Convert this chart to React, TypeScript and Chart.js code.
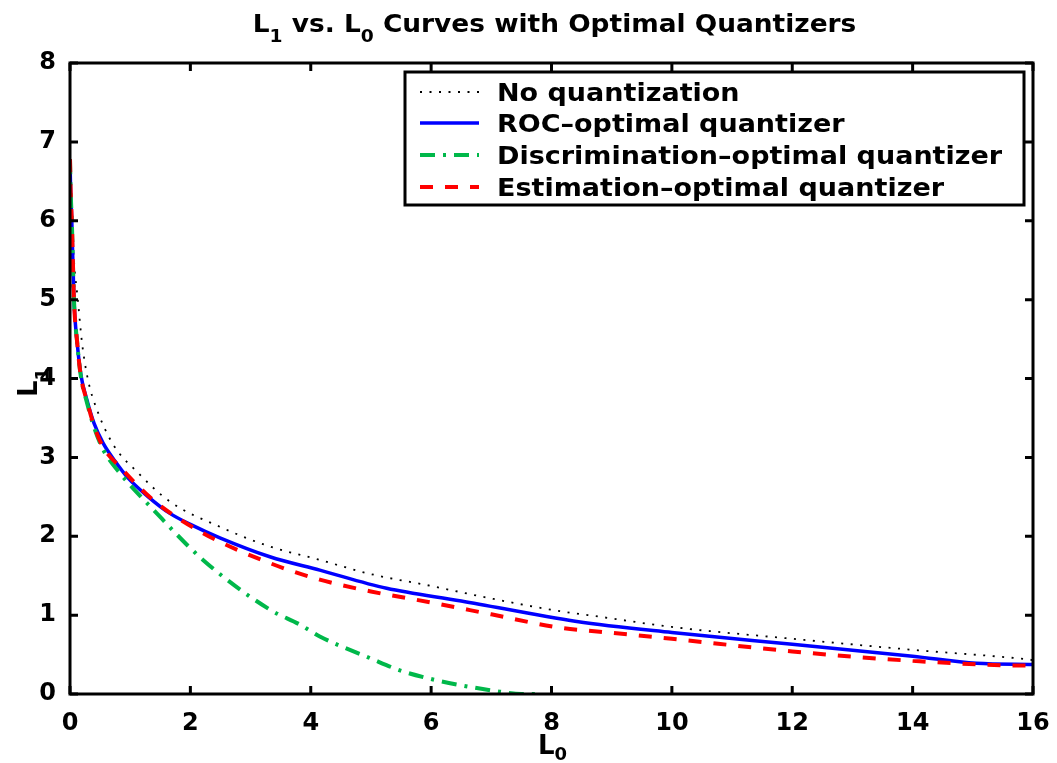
import React, { useEffect, useRef } from "react";
import { Chart, registerables } from "chart.js";

Chart.register(...registerables);

// ---- Data ----
const noQuantL0 = [0, 0.01, 0.03, 0.07, 0.13, 0.2, 0.3, 0.45, 0.72, 1.11, 1.66, 2.49, 3.32, 4.15, 5, 6, 7, 8.14, 8.8, 10, 12, 14, 15.9, 16];
const noQuantL1 = [6.8, 6.4, 6.0, 5.45, 5.0, 4.45, 3.98, 3.6, 3.16, 2.82, 2.44, 2.12, 1.87, 1.7, 1.52, 1.37, 1.21, 1.05, 0.98, 0.85, 0.7, 0.56, 0.44, 0.43];

const rocL0 = [0, 0.01, 0.03, 0.066, 0.12, 0.18, 0.28, 0.4, 0.55, 0.75, 0.94, 1.3, 1.66, 2.0, 2.49, 3.32, 4.15, 5.26, 6.5, 8.42, 10, 12, 14, 15.06, 16];
const rocL1 = [6.78, 6.4, 6.0, 5.0, 4.45, 4.05, 3.73, 3.43, 3.18, 2.95, 2.76, 2.5, 2.29, 2.15, 1.98, 1.74, 1.57, 1.34, 1.18, 0.92, 0.78, 0.63, 0.48, 0.39, 0.375];

const discL0 = [0, 0.01, 0.03, 0.066, 0.12, 0.18, 0.28, 0.4, 0.55, 0.83, 1.38, 2.21, 3.32, 3.82, 4.15, 5, 5.48, 6, 6.5, 7.14, 7.5, 7.75];
const discL1 = [6.78, 6.4, 6.0, 5.0, 4.45, 4.03, 3.7, 3.38, 3.1, 2.8, 2.34, 1.7, 1.07, 0.88, 0.73, 0.45, 0.3, 0.19, 0.11, 0.03, 0.0, 0.0];

const estL0 = [0, 0.01, 0.03, 0.066, 0.12, 0.18, 0.28, 0.4, 0.55, 0.83, 1.38, 2.21, 3.32, 4.15, 5, 6, 7, 8.14, 8.8, 10, 12, 14, 15.9, 16];
const estL1 = [6.78, 6.4, 6.0, 5.0, 4.45, 4.03, 3.72, 3.4, 3.13, 2.88, 2.46, 2.04, 1.66, 1.45, 1.3, 1.16, 1.01, 0.84, 0.79, 0.7, 0.54, 0.42, 0.36, 0.36];

const seriesLabels = [
  "No quantization",
  "ROC–optimal quantizer",
  "Discrimination–optimal quantizer",
  "Estimation–optimal quantizer",
];

const xTickStep = 2;
const yTickStep = 1;
const xMax = 16;
const yMax = 8;

const FONT = "'DejaVu Sans', 'Liberation Sans', Arial, sans-serif";

const styles = [
  { color: "#000000", width: 1.8, dash: [2, 7.5] },
  { color: "#0000ff", width: 3.5, dash: [] as number[] },
  { color: "#00b84a", width: 4, dash: [15, 8, 3, 8] },
  { color: "#ff0000", width: 4, dash: [13, 12] },
];

function pts(xs: number[], ys: number[]) {
  return xs.map((x, i) => ({ x, y: ys[i] }));
}

type Part = { t: string; sub?: boolean };

function drawRich(
  ctx: CanvasRenderingContext2D,
  parts: Part[],
  x: number,
  y: number,
  size: number,
  sx: number,
  align: "left" | "center",
  subOff: number = 0.42
) {
  const subSize = Math.round(size * 0.7);
  const widths = parts.map((p) => {
    ctx.font = `bold ${p.sub ? subSize : size}px ${FONT}`;
    return ctx.measureText(p.t).width;
  });
  const total = widths.reduce((a, b) => a + b, 0);
  ctx.save();
  ctx.translate(x, y);
  ctx.scale(sx, 1);
  let cx = align === "center" ? -total / 2 : 0;
  ctx.textBaseline = "alphabetic";
  ctx.textAlign = "left";
  ctx.fillStyle = "#000";
  parts.forEach((p, i) => {
    ctx.font = `bold ${p.sub ? subSize : size}px ${FONT}`;
    ctx.fillText(p.t, cx, p.sub ? size * subOff : 0);
    cx += widths[i];
  });
  ctx.restore();
}

const decorPlugin = {
  id: "decor",
  afterDraw(chart: any) {
    const ctx: CanvasRenderingContext2D = chart.ctx;
    const { left, right, top, bottom } = chart.chartArea;
    const xs = chart.scales.x;
    const ys = chart.scales.y;
    ctx.save();
    // frame
    ctx.strokeStyle = "#000";
    ctx.lineWidth = 3;
    ctx.setLineDash([]);
    ctx.strokeRect(left, top, right - left, bottom - top);
    // inward ticks
    const tl = 8;
    ctx.beginPath();
    for (let v = 0; v <= xMax; v += xTickStep) {
      const px = xs.getPixelForValue(v);
      ctx.moveTo(px, bottom);
      ctx.lineTo(px, bottom - tl);
      ctx.moveTo(px, top);
      ctx.lineTo(px, top + tl);
    }
    for (let v = 0; v <= yMax; v += yTickStep) {
      const py = ys.getPixelForValue(v);
      ctx.moveTo(left, py);
      ctx.lineTo(left + tl, py);
      ctx.moveTo(right, py);
      ctx.lineTo(right - tl, py);
    }
    ctx.stroke();

    // title
    drawRich(
      ctx,
      [{ t: "L" }, { t: "1", sub: true }, { t: " vs. L" }, { t: "0", sub: true }, { t: " Curves with Optimal Quantizers" }],
      (left + right) / 2 + 3,
      32,
      24,
      1.1,
      "center"
    );
    // x label
    drawRich(ctx, [{ t: "L" }, { t: "0", sub: true }], (left + right) / 2 + 1, 754, 26, 1.0, "center", 0.22);
    // y label (rotated)
    ctx.save();
    ctx.translate(37, (top + bottom) / 2 + 4);
    ctx.rotate(-Math.PI / 2);
    drawRich(ctx, [{ t: "L" }, { t: "1", sub: true }], 0, 0, 26, 1.0, "center");
    ctx.restore();

    // legend
    const bx = 405, by = 72, bw = 619, bh = 133;
    ctx.fillStyle = "#fff";
    ctx.fillRect(bx, by, bw, bh);
    ctx.strokeStyle = "#000";
    ctx.lineWidth = 3;
    ctx.setLineDash([]);
    ctx.strokeRect(bx, by, bw, bh);
    const rows = [92, 123, 155, 187];
    seriesLabels.forEach((lab, i) => {
      const st = styles[i];
      ctx.save();
      ctx.strokeStyle = st.color;
      ctx.lineWidth = st.width;
      ctx.setLineDash(st.dash);
      ctx.beginPath();
      ctx.moveTo(420, rows[i]);
      ctx.lineTo(479, rows[i]);
      ctx.stroke();
      ctx.restore();
      drawRich(ctx, [{ t: lab }], 497, rows[i] + 9, 25, 1.08, "left");
    });
    ctx.restore();
  },
};

export default function App() {
  const ref = useRef<HTMLCanvasElement | null>(null);
  useEffect(() => {
    if (!ref.current) return;
    const series = [
      pts(noQuantL0, noQuantL1),
      pts(rocL0, rocL1),
      pts(discL0, discL1),
      pts(estL0, estL1),
    ];
    const chart = new Chart(ref.current, {
      type: "line",
      data: {
        datasets: series.map((d, i) => ({
          label: seriesLabels[i],
          data: d,
          borderColor: styles[i].color,
          borderWidth: styles[i].width,
          borderDash: styles[i].dash,
          pointRadius: 0,
          fill: false,
          cubicInterpolationMode: "monotone" as const,
          order: 4 - i,
        })),
      },
      options: {
        responsive: false,
        animation: false,
        events: [],
        layout: { padding: { left: 0, right: 24, top: 63, bottom: 0 } },
        plugins: { legend: { display: false }, tooltip: { enabled: false }, title: { display: false } },
        scales: {
          x: {
            type: "linear",
            min: 0,
            max: xMax,
            grid: { display: false },
            border: { display: false },
            ticks: {
              stepSize: xTickStep,
              color: "#000",
              padding: 7,
              font: { family: FONT, weight: "bold", size: 24 },
            },
            afterFit: (s: any) => {
              s.height = 69;
            },
          },
          y: {
            type: "linear",
            min: 0,
            max: yMax,
            grid: { display: false },
            border: { display: false },
            ticks: {
              stepSize: yTickStep,
              color: "#000",
              padding: 6,
              font: { family: FONT, weight: "bold", size: 24 },
            },
            afterFit: (s: any) => {
              s.width = 70;
            },
          },
        },
      },
      plugins: [decorPlugin],
    } as any);
    return () => chart.destroy();
  }, []);
  return (
    <div style={{ position: "fixed", left: 0, top: 0, width: 1057, height: 763, background: "#fff" }}>
      <canvas ref={ref} width={1057} height={763} style={{ display: "block" }} />
    </div>
  );
}
